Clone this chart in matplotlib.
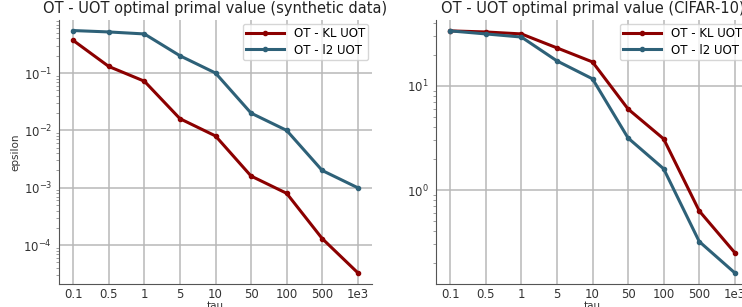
import numpy as np
import matplotlib
matplotlib.use("Agg")
import matplotlib.pyplot as plt

# x categories (tau)
tau_labels = ["0.1", "0.5", "1", "5", "10", "50", "100", "500", "1e3"]

# synthetic data
synth_kl = [0.37, 0.13, 0.072, 0.016, 0.008, 0.0016, 0.0008, 0.00013, 3.3e-5]
synth_l2 = [0.55, 0.52, 0.48, 0.2, 0.1, 0.02, 0.01, 0.002, 0.001]

# CIFAR-10
cifar_kl = [33.8, 33.0, 31.6, 23.2, 17.0, 6.0, 3.1, 0.63, 0.25]
cifar_l2 = [33.8, 31.6, 29.5, 17.4, 11.7, 3.16, 1.6, 0.32, 0.16]

RED = "#8b0000"
BLUE = "#2e6178"

fig = plt.figure(figsize=(7.42, 3.07), dpi=100)
W, H = 742.0, 307.0
ax1 = fig.add_axes([59 / W, 1 - 284 / H, 313 / W, 264 / H])
ax2 = fig.add_axes([436 / W, 1 - 284 / H, 313 / W, 264 / H])

x = np.arange(len(tau_labels))


def style(ax, kl, l2, title, ylim):
    ax.plot(x, kl, color=RED, marker="o", markersize=3, lw=2.2, label="OT - KL UOT")
    ax.plot(x, l2, color=BLUE, marker="o", markersize=3, lw=2.2, label="OT - l2 UOT")
    ax.set_yscale("log")
    ax.set_ylim(*ylim)
    ax.set_xticks(x)
    ax.set_xticklabels(tau_labels)
    ax.set_title(title, fontsize=10.5, color="#222222", pad=5)
    ax.set_xlabel("tau", fontsize=7.5, labelpad=0, color="#333333")
    ax.grid(True, which="major", color="#b8b8b8", lw=1.1)
    ax.set_axisbelow(True)
    for s in ["top", "right"]:
        ax.spines[s].set_visible(False)
    for s in ["left", "bottom"]:
        ax.spines[s].set_color("#555555")
        ax.spines[s].set_linewidth(0.8)
    ax.tick_params(axis="both", which="major", length=0, labelsize=8.5,
                   colors="#333333", pad=5)
    ax.tick_params(axis="x", which="major", pad=3)
    ax.tick_params(axis="y", which="minor", length=2, width=0.5, color="#777777")
    ax.tick_params(axis="x", which="minor", length=0)
    leg = ax.legend(loc="upper right", fontsize=8.5, frameon=True,
                    borderpad=0.3, handlelength=3.2, labelspacing=0.3,
                    borderaxespad=0.3)
    leg.get_frame().set_edgecolor("#cccccc")


style(ax1, synth_kl, synth_l2, "OT - UOT optimal primal value (synthetic data)", (2.1e-5, 0.84))
ax1.set_ylabel("epsilon", fontsize=7.5, labelpad=2, color="#333333")
style(ax2, cifar_kl, cifar_l2, "OT - UOT optimal primal value (CIFAR-10)", (0.125, 43))

fig.savefig("out.png", dpi=100)
